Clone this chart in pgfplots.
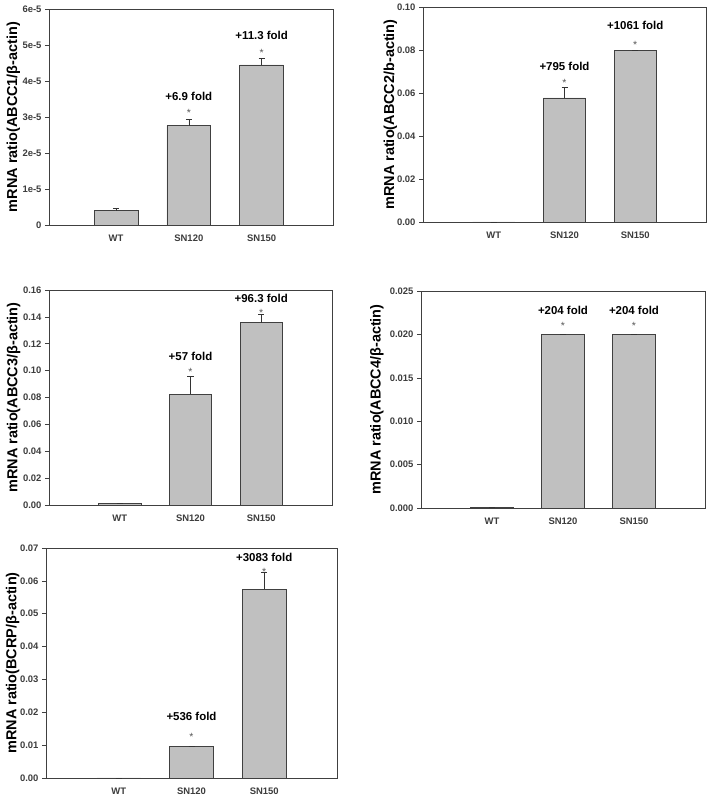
\documentclass[border=0pt]{standalone}
\usepackage{pgfplots}
\pgfplotsset{compat=1.18}
\usepackage{fontspec}
\setmainfont{Liberation Sans}
\definecolor{barfill}{RGB}{192,192,192}
\definecolor{tickgray}{RGB}{60,60,60}
\pgfplotsset{
 panel/.style={
  scale only axis, anchor=north west, ybar, bar width=0.6, clip=false,
  xmin=0, xmax=4, ymin=0, enlargelimits=false,
  xtick={1,2,3}, xticklabels={WT,SN120,SN150},
  ytick pos=left, tick align=outside, major tick length=4bp,
  x tick style={draw=none},
  y tick style={draw=black!75, line width=0.6pt},
  axis line style={draw=black!75, line width=0.6pt},
  xticklabel style={font=\fontsize{9.5}{10}\selectfont\bfseries, text=tickgray, yshift=-2bp},
  yticklabel style={font=\fontsize{9.5}{10}\selectfont\bfseries, text=tickgray},
  /pgf/number format/assume math mode=true,
  scaled y ticks=false,
  every axis y label/.style={rotate=90, anchor=center, font=\fontsize{14.5}{15}\selectfont\bfseries},
 },
 barsty/.style={fill=barfill, draw=black!75, line width=0.6pt,
  error bars/.cd, y dir=plus, y explicit,
  error bar style={draw=black!80, line width=0.6pt},
  error mark options={rotate=90, mark size=3bp, draw=black!80, line width=0.6pt}},
}
\newcommand{\fold}[3]{\node[font=\fontsize{11.5}{12}\selectfont\bfseries] at (axis cs:#1,#2) {#3};}
\newcommand{\sig}[2]{\node[font=\fontsize{10.5}{10}\selectfont, text=black!65, anchor=base, yshift=-6bp, inner sep=0pt] at (axis cs:#1,#2) {*};}
\begin{document}
\begin{tikzpicture}
\path[use as bounding box] (0,0) rectangle (708bp,-796bp);

% Panel 1
\begin{axis}[panel, at={(49bp,-9bp)}, width=284bp, height=216bp,
  xmin=0.08, xmax=3.98, ymax=6e-5,
  ytick={0,1e-5,2e-5,3e-5,4e-5,5e-5,6e-5},
  yticklabels={0,1e-5,2e-5,3e-5,4e-5,5e-5,6e-5},
  ylabel={mRNA ratio(ABCC1/β-actin)},
  ylabel style={at={(axis description cs:-0.125,0.5)}}]
\addplot[barsty] coordinates {(1,4.0e-6) +- (0,0.7e-6) (2,2.76e-5) +- (0,0.18e-5) (3,4.45e-5) +- (0,0.17e-5)};
\fold{2}{3.564e-5}{+6.9 fold}
\sig{2}{3.167e-5}
\fold{3}{5.278e-5}{+11.3 fold}
\sig{3}{4.861e-5}
\end{axis}

% Panel 2
\begin{axis}[panel, at={(423bp,-7bp)}, width=283bp, height=215bp,
  ymax=0.10,
  ytick={0,0.02,0.04,0.06,0.08,0.10},
  yticklabels={0.00,0.02,0.04,0.06,0.08,0.10},
  ylabel={mRNA ratio(ABCC2/b-actin)},
  ylabel style={at={(axis description cs:-0.115,0.5)}}]
\addplot[barsty] coordinates {(1,0.000075) +- (0,0) (2,0.0577) +- (0,0.0048) (3,0.0800) +- (0,0)};
\fold{2}{0.0722}{+795 fold}
\sig{2}{0.0660}
\fold{3}{0.0916}{+1061 fold}
\sig{3}{0.0834}
\end{axis}

% Panel 3
\begin{axis}[panel, at={(49bp,-290bp)}, width=283bp, height=215bp,
  ymax=0.16,
  ytick={0,0.02,0.04,0.06,0.08,0.10,0.12,0.14,0.16},
  yticklabels={0.00,0.02,0.04,0.06,0.08,0.10,0.12,0.14,0.16},
  ylabel={mRNA ratio(ABCC3/β-actin)},
  ylabel style={at={(axis description cs:-0.125,0.5)}}]
\addplot[barsty] coordinates {(1,0.0014) +- (0,0) (2,0.0826) +- (0,0.013) (3,0.1357) +- (0,0.006)};
\fold{2}{0.1104}{+57 fold}
\sig{2}{0.1010}
\fold{3}{0.1538}{+96.3 fold}
\sig{3}{0.1451}
\end{axis}

% Panel 4
\begin{axis}[panel, at={(421bp,-291bp)}, width=284bp, height=217bp,
  ymax=0.025,
  ytick={0,0.005,0.010,0.015,0.020,0.025},
  yticklabels={0.000,0.005,0.010,0.015,0.020,0.025},
  ylabel={mRNA ratio(ABCC4/β-actin)},
  ylabel style={at={(axis description cs:-0.155,0.5)}}]
\addplot[barsty] coordinates {(1,0.0001) +- (0,0) (2,0.0200) +- (0,0) (3,0.0200) +- (0,0)};
\fold{2}{0.02281}{+204 fold}
\sig{2}{0.02120}
\fold{3}{0.02281}{+204 fold}
\sig{3}{0.02120}
\end{axis}

% Panel 5
\begin{axis}[panel, at={(46bp,-548bp)}, width=291bp, height=230bp,
  ymax=0.07,
  ytick={0,0.01,0.02,0.03,0.04,0.05,0.06,0.07},
  yticklabels={0.00,0.01,0.02,0.03,0.04,0.05,0.06,0.07},
  ylabel={mRNA ratio(BCRP/β-actin)},
  ylabel style={at={(axis description cs:-0.115,0.5)}}]
\addplot[barsty] coordinates {(1,0.00002) +- (0,0) (2,0.0097) +- (0,0) (3,0.0575) +- (0,0.0051)};
\fold{2}{0.01866}{+536 fold}
\sig{2}{0.01309}
\fold{3}{0.06717}{+3083 fold}
\sig{3}{0.06352}
\end{axis}
\end{tikzpicture}
\end{document}
